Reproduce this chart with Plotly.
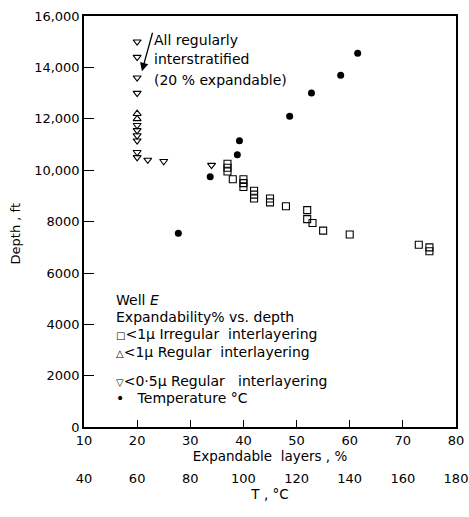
import plotly.graph_objects as go

# ---- data ----
# <0.5 micron, regular interlayering (down triangles): expandable %, depth ft
tri_down_x = [20, 20, 20, 20, 20, 20, 20, 20, 20, 20, 22, 25, 34]
tri_down_y = [15000, 14400, 13600, 13000, 11750, 11550, 11350, 11150, 10700, 10500, 10400, 10350, 10200]

# <1 micron, regular interlayering (up triangles)
tri_up_x = [20, 20]
tri_up_y = [12200, 12000]

# <1 micron, irregular interlayering (squares)
sq_x = [37, 37, 37, 38, 40, 40, 40, 42, 42, 42, 45, 45, 48, 52, 52, 53, 55, 60, 73, 75, 75]
sq_y = [10250, 10100, 9950, 9650, 9650, 9500, 9350, 9200, 9050, 8900, 8900, 8750,
        8600, 8450, 8100, 7950, 7650, 7500, 7100, 7000, 6850]

# temperature (deg C) vs depth (filled circles)
temp_T = [75.5, 87.5, 97.7, 98.5, 117.4, 125.6, 136.6, 143]
temp_y = [7550, 9750, 10600, 11150, 12100, 13000, 13700, 14550]

x_ticks = [10, 20, 30, 40, 50, 60, 70, 80]
t_ticks = [40, 60, 80, 100, 120, 140, 160, 180]
y_ticks = [0, 2000, 4000, 6000, 8000, 10000, 12000, 14000, 16000]
y_ticklabels = ["0", "2000", "4000", "6000", "8000", "10,000", "12,000", "14,000", "16,000"]

FONT = "DejaVu Sans"
BLACK = "black"

fig = go.Figure()
mk_line = dict(color=BLACK, width=1.1)
fig.add_trace(go.Scatter(x=sq_x, y=sq_y, mode="markers",
                         marker=dict(symbol="square-open", size=7, color=BLACK, line=mk_line)))
fig.add_trace(go.Scatter(x=tri_up_x, y=tri_up_y, mode="markers",
                         marker=dict(symbol="triangle-up-open", size=7, color=BLACK, line=mk_line)))
fig.add_trace(go.Scatter(x=tri_down_x, y=tri_down_y, mode="markers",
                         marker=dict(symbol="triangle-down-open", size=7, color=BLACK, line=mk_line)))
fig.add_trace(go.Scatter(x=temp_T, y=temp_y, mode="markers", xaxis="x2",
                         marker=dict(symbol="circle", size=7, color=BLACK)))

W, H = 469, 517
L, R, T, B = 84, 13, 16, 0
PH = H - T - B
PW = W - L - R


def py(px):
    return (H - B - px) / PH


def pxx(px):
    return (px - L) / PW


y_dom0 = py(434)

fig.update_layout(
    width=W, height=H,
    margin=dict(l=L, r=R, t=T, b=B),
    paper_bgcolor="white", plot_bgcolor="white",
    showlegend=False,
    font=dict(family=FONT, size=13, color=BLACK),
    xaxis=dict(range=[10, 80], tickvals=x_ticks, ticks="inside", ticklen=8,
               tickcolor=BLACK, showline=True, linecolor=BLACK, linewidth=1.5,
               mirror=True, showgrid=False, zeroline=False,
               title=dict(text="Expandable  layers , %", standoff=4,
                          font=dict(size=13.5))),
    xaxis2=dict(range=[40, 180], tickvals=t_ticks, overlaying="x", anchor="free",
                position=py(476), side="bottom", ticks="", showline=False,
                showgrid=False, zeroline=False,
                title=dict(text="T , °C", standoff=4, font=dict(size=13.5))),
    yaxis=dict(range=[0, 16000], domain=[y_dom0, 1], tickvals=y_ticks,
               ticktext=y_ticklabels, ticks="inside", ticklen=10, tickcolor=BLACK,
               showline=True, linecolor=BLACK, linewidth=1.5, mirror=True,
               showgrid=False, zeroline=False),
)

ann = []
# y-axis title
ann.append(dict(text="Depth , ft", xref="paper", yref="paper", x=pxx(15), y=py(238),
                textangle=-90, showarrow=False, xanchor="center", yanchor="middle",
                font=dict(size=13)))
# note text
for txt, ypx in [("All regularly", 40), ("interstratified", 60), ("(20 % expandable)", 81)]:
    ann.append(dict(text=txt, xref="paper", yref="paper", x=pxx(152), y=py(ypx),
                    showarrow=False, xanchor="left", yanchor="middle", font=dict(size=14)))
# arrow
ann.append(dict(text="", x=20.9, y=13850, xref="x", yref="y", ax=11, ay=-40,
                showarrow=True, arrowhead=2, arrowsize=1.3, arrowwidth=1.3,
                arrowcolor=BLACK))


def sym(s):
    return '<span style="font-size:10px">' + s + '</span>'


# legend block
legend_lines = [
    ("Well <i>E</i>", 305),
    ("Expandability% vs. depth", 322),
    (sym("□") + "<1μ Irregular  interlayering", 339),
    (sym("△") + "<1μ Regular  interlayering", 357),
    (sym("▽") + "<0·5μ Regular   interlayering", 387),
    ("•   Temperature °C", 404),
]
for txt, ypx in legend_lines:
    ann.append(dict(text=txt, xref="paper", yref="paper", x=pxx(114), y=py(ypx),
                    showarrow=False, xanchor="left", yanchor="middle", font=dict(size=14)))
fig.update_layout(annotations=ann)

fig.write_html("out.html")
